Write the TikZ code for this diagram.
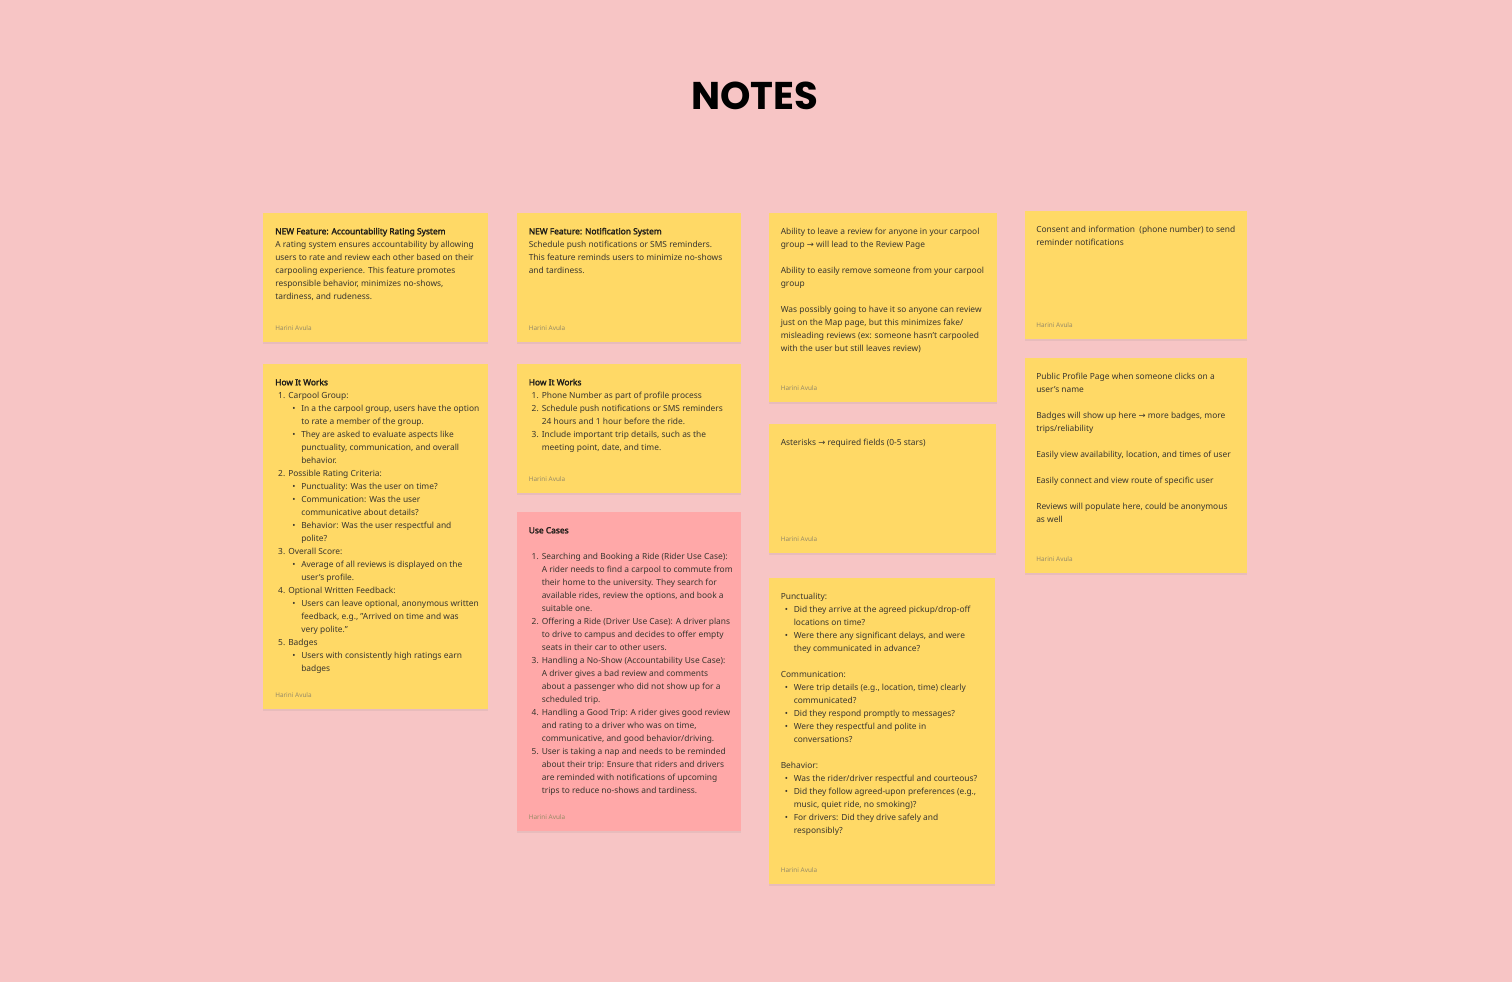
\documentclass[tikz,border=0pt]{standalone}
\usepackage{fontspec}
\setmainfont{Noto Sans}
\newfontfamily\headfont{Noto Sans}[FakeBold=2.2]
\newfontfamily\titlefont{Poppins}
\newfontfamily\arrowfont{DejaVu Sans}
\usetikzlibrary{shadows}
\definecolor{board}{HTML}{F7C5C5}
\definecolor{sticky}{HTML}{FFD966}
\definecolor{stickypink}{HTML}{FFA8A8}
\definecolor{ink}{HTML}{3A362E}
\definecolor{inkdark}{HTML}{1F1D19}
\definecolor{bylinegray}{HTML}{978B66}
\newlength\px
\setlength\px{0.75pt}
\newcommand\arr{{\arrowfont\fontsize{6.3pt}{9.75pt}\selectfont →}}
\newcommand\notehead[1]{\leavevmode{\headfont\color{inkdark}#1}}
\newcommand\nitem[2]{\makebox[10\px][r]{#1}\hspace*{3\px}#2}
\newcommand\ncont[1]{\hspace*{13\px}#1}
\newcommand\bitem[1]{\hspace*{4\px}\makebox[9\px][l]{•}#1}
\newcommand\bcont[1]{\hspace*{13\px}#1}
\newcommand\bbitem[1]{\hspace*{17\px}\makebox[9\px][l]{•}#1}
\newcommand\bbcont[1]{\hspace*{26\px}#1}
\tikzset{
  note/.style={anchor=north west, fill=sticky, inner sep=0pt,
    drop shadow={opacity=0.12, shadow xshift=0pt, shadow yshift=-1.5pt}},
  pinknote/.style={note, fill=stickypink},
  body/.style={anchor=base west, inner sep=0pt, text=ink,
    font=\fontsize{6.3pt}{9.75pt}\selectfont},
  byline/.style={anchor=base west, inner sep=0pt, text=bylinegray,
    font=\fontsize{4.8pt}{6pt}\selectfont},
  heading/.style={text=black, font=\titlefont\bfseries\fontsize{29pt}{32pt}\selectfont},
}

\begin{document}
\begin{tikzpicture}[x=0.75pt, y=-0.75pt]
  \fill[board] (0,0) rectangle (1512,982);
  \useasboundingbox (0,0) rectangle (1512,982);
  \node[heading] (title) at (755,96) {NOTES};

  % column 1: rating system
  \node[note, minimum width=225\px, minimum height=129\px] (rating) at (263,213) {};
  \node[body] (ratingtext) at ([shift={(12,21.3)}]rating.north west) {\parbox[t]{400\px}{%
    \notehead{NEW Feature: Accountability Rating System}\\
    A rating system ensures accountability by allowing\\
    users to rate and review each other based on their\\
    carpooling experience. This feature promotes\\
    responsible behavior, minimizes no-shows,\\
    tardiness, and rudeness.}};
  \node[byline] (ratingby) at ([shift={(12,-12.3)}]rating.south west) {Harini Avula};

  \node[note, minimum width=225\px, minimum height=345\px] (ratinghow) at (263,364) {};
  \node[body] (ratinghowtext) at ([shift={(12,21.3)}]ratinghow.north west) {\parbox[t]{400\px}{%
    \notehead{How It Works}\\
    \nitem{1.}{Carpool Group:}\\
    \bbitem{In a the carpool group, users have the option}\\
    \bbcont{to rate a member of the group.}\\
    \bbitem{They are asked to evaluate aspects like}\\
    \bbcont{punctuality, communication, and overall}\\
    \bbcont{behavior.}\\
    \nitem{2.}{Possible Rating Criteria:}\\
    \bbitem{Punctuality: Was the user on time?}\\
    \bbitem{Communication: Was the user}\\
    \bbcont{communicative about details?}\\
    \bbitem{Behavior: Was the user respectful and}\\
    \bbcont{polite?}\\
    \nitem{3.}{Overall Score:}\\
    \bbitem{Average of all reviews is displayed on the}\\
    \bbcont{user's profile.}\\
    \nitem{4.}{Optional Written Feedback:}\\
    \bbitem{Users can leave optional, anonymous written}\\
    \bbcont{feedback, e.g., "Arrived on time and was}\\
    \bbcont{very polite."}\\
    \nitem{5.}{Badges}\\
    \bbitem{Users with consistently high ratings earn}\\
    \bbcont{badges}}};
  \node[byline] (ratinghowby) at ([shift={(12,-12.3)}]ratinghow.south west) {Harini Avula};

  % column 2: notification system and use cases
  \node[note, minimum width=224\px, minimum height=129\px] (notif) at (517,213) {};
  \node[body] (notiftext) at ([shift={(11.5,21.3)}]notif.north west) {\parbox[t]{400\px}{%
    \notehead{NEW Feature: Notification System}\\
    Schedule push notifications or SMS reminders.\\
    This feature reminds users to minimize no-shows\\
    and tardiness.}};
  \node[byline] (notifby) at ([shift={(11.5,-12.3)}]notif.south west) {Harini Avula};

  \node[note, minimum width=224\px, minimum height=129\px] (notifhow) at (517,364) {};
  \node[body] (notifhowtext) at ([shift={(11.5,21.3)}]notifhow.north west) {\parbox[t]{400\px}{%
    \notehead{How It Works}\\
    \nitem{1.}{Phone Number as part of profile process}\\
    \nitem{2.}{Schedule push notifications or SMS reminders}\\
    \ncont{24 hours and 1 hour before the ride.}\\
    \nitem{3.}{Include important trip details, such as the}\\
    \ncont{meeting point, date, and time.}}};
  \node[byline] (notifhowby) at ([shift={(11.5,-12.3)}]notifhow.south west) {Harini Avula};

  \node[pinknote, minimum width=224\px, minimum height=319\px] (usecases) at (517,512) {};
  \node[body] (usecasestext) at ([shift={(11.5,21.3)}]usecases.north west) {\parbox[t]{400\px}{%
    \notehead{Use Cases}\\[13\px]
    \nitem{1.}{Searching and Booking a Ride (Rider Use Case):}\\
    \ncont{A rider needs to find a carpool to commute from}\\
    \ncont{their home to the university. They search for}\\
    \ncont{available rides, review the options, and book a}\\
    \ncont{suitable one.}\\
    \nitem{2.}{Offering a Ride (Driver Use Case): A driver plans}\\
    \ncont{to drive to campus and decides to offer empty}\\
    \ncont{seats in their car to other users.}\\
    \nitem{3.}{Handling a No-Show (Accountability Use Case):}\\
    \ncont{A driver gives a bad review and comments}\\
    \ncont{about a passenger who did not show up for a}\\
    \ncont{scheduled trip.}\\
    \nitem{4.}{Handling a Good Trip: A rider gives good review}\\
    \ncont{and rating to a driver who was on time,}\\
    \ncont{communicative, and good behavior/driving.}\\
    \nitem{5.}{User is taking a nap and needs to be reminded}\\
    \ncont{about their trip: Ensure that riders and drivers}\\
    \ncont{are reminded with notifications of upcoming}\\
    \ncont{trips to reduce no-shows and tardiness.}}};
  \node[byline] (usecasesby) at ([shift={(11.5,-12.3)}]usecases.south west) {Harini Avula};

  % column 3: review page notes
  \node[note, minimum width=228\px, minimum height=189\px] (reviews) at (769,213) {};
  \node[body] (reviewstext) at ([shift={(11.5,21.3)}]reviews.north west) {\parbox[t]{400\px}{%
    Ability to leave a review for anyone in your carpool\\
    group \arr{} will lead to the Review Page\\[13\px]
    Ability to easily remove someone from your carpool\\
    group\\[13\px]
    Was possibly going to have it so anyone can review\\
    just on the Map page, but this minimizes fake/\\
    misleading reviews (ex: someone hasn't carpooled\\
    with the user but still leaves review)}};
  \node[byline] (reviewsby) at ([shift={(11.5,-12.3)}]reviews.south west) {Harini Avula};

  \node[note, minimum width=227\px, minimum height=129\px] (stars) at (769,424) {};
  \node[body] (starstext) at ([shift={(11.5,21.3)}]stars.north west) {%
    Asterisks \arr{} required fields (0-5 stars)};
  \node[byline] (starsby) at ([shift={(11.5,-12.3)}]stars.south west) {Harini Avula};

  \node[note, minimum width=226\px, minimum height=306\px] (criteria) at (769,578) {};
  \node[body] (criteriatext) at ([shift={(11.5,21.3)}]criteria.north west) {\parbox[t]{400\px}{%
    Punctuality:\\
    \bitem{Did they arrive at the agreed pickup/drop-off}\\
    \bcont{locations on time?}\\
    \bitem{Were there any significant delays, and were}\\
    \bcont{they communicated in advance?}\\[13\px]
    Communication:\\
    \bitem{Were trip details (e.g., location, time) clearly}\\
    \bcont{communicated?}\\
    \bitem{Did they respond promptly to messages?}\\
    \bitem{Were they respectful and polite in}\\
    \bcont{conversations?}\\[13\px]
    Behavior:\\
    \bitem{Was the rider/driver respectful and courteous?}\\
    \bitem{Did they follow agreed-upon preferences (e.g.,}\\
    \bcont{music, quiet ride, no smoking)?}\\
    \bitem{For drivers: Did they drive safely and}\\
    \bcont{responsibly?}}};
  \node[byline] (criteriaby) at ([shift={(11.5,-12.3)}]criteria.south west) {Harini Avula};

  % column 4: consent and profile page
  \node[note, minimum width=222\px, minimum height=128\px] (consent) at (1025,211) {};
  \node[body] (consenttext) at ([shift={(11,21.3)}]consent.north west) {\parbox[t]{400\px}{%
    Consent and information \ (phone number) to send\\
    reminder notifications}};
  \node[byline] (consentby) at ([shift={(11,-12.3)}]consent.south west) {Harini Avula};

  \node[note, minimum width=222\px, minimum height=215\px] (profile) at (1025,358) {};
  \node[body] (profiletext) at ([shift={(11,21.3)}]profile.north west) {\parbox[t]{400\px}{%
    Public Profile Page when someone clicks on a\\
    user's name\\[13\px]
    Badges will show up here \arr{} more badges, more\\
    trips/reliability\\[13\px]
    Easily view availability, location, and times of user\\[13\px]
    Easily connect and view route of specific user\\[13\px]
    Reviews will populate here, could be anonymous\\
    as well}};
  \node[byline] (profileby) at ([shift={(11,-12.3)}]profile.south west) {Harini Avula};
\end{tikzpicture}
\end{document}
